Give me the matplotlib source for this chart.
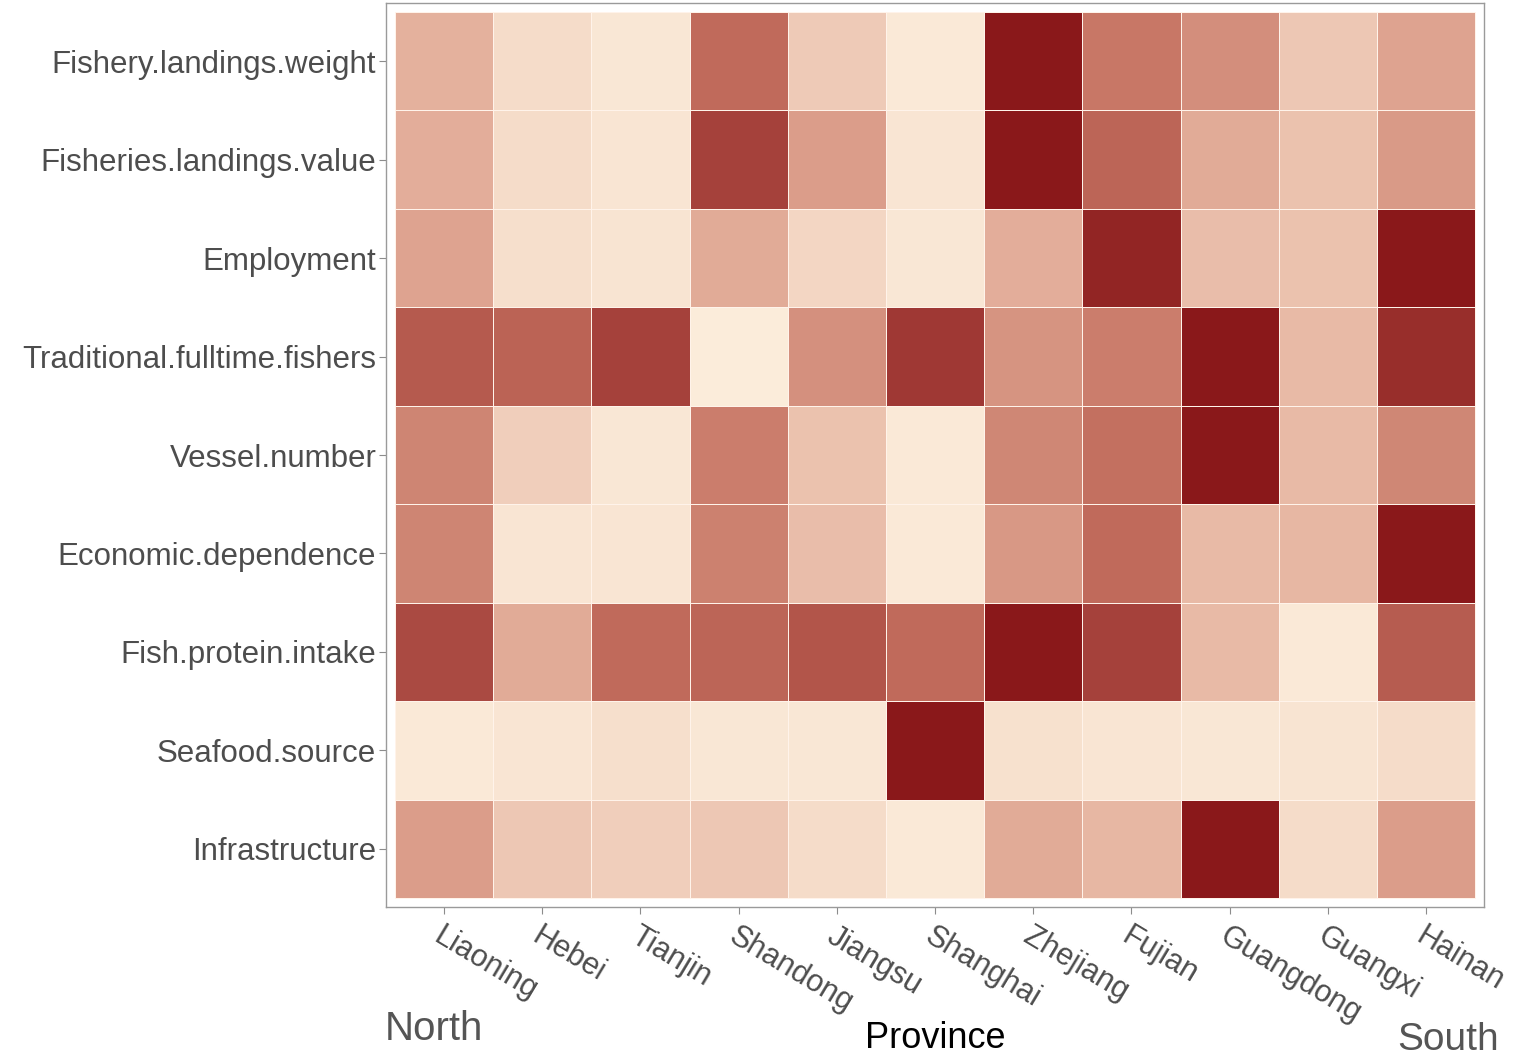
import numpy as np
import matplotlib
matplotlib.use("Agg")
import matplotlib.pyplot as plt
from matplotlib.colors import LinearSegmentedColormap

plt.rcParams['font.family'] = ['Liberation Sans', 'DejaVu Sans']

provinces = ["Liaoning", "Hebei", "Tianjin", "Shandong", "Jiangsu", "Shanghai",
             "Zhejiang", "Fujian", "Guangdong", "Guangxi", "Hainan"]
indicators = ["Fishery.landings.weight", "Fisheries.landings.value", "Employment",
              "Traditional.fulltime.fishers", "Vessel.number", "Economic.dependence",
              "Fish.protein.intake", "Seafood.source", "Infrastructure"]

# scaled values (0 = light, 1 = dark), rows follow indicators top to bottom
landings_weight = [0.35, 0.10, 0.03, 0.70, 0.20, 0.02, 1.00, 0.65, 0.53, 0.22, 0.42]
landings_value = [0.37, 0.10, 0.04, 0.85, 0.45, 0.04, 1.00, 0.72, 0.38, 0.25, 0.47]
employment = [0.42, 0.08, 0.05, 0.38, 0.13, 0.03, 0.37, 0.95, 0.28, 0.25, 1.00]
fulltime_fishers = [0.76, 0.73, 0.85, 0.00, 0.52, 0.88, 0.50, 0.62, 1.00, 0.30, 0.92]
vessel_number = [0.58, 0.18, 0.03, 0.62, 0.25, 0.02, 0.57, 0.68, 1.00, 0.30, 0.57]
economic_dependence = [0.58, 0.04, 0.04, 0.60, 0.28, 0.02, 0.48, 0.70, 0.30, 0.32, 1.00]
protein_intake = [0.82, 0.38, 0.70, 0.72, 0.78, 0.70, 1.00, 0.85, 0.30, 0.02, 0.75]
seafood_source = [0.02, 0.04, 0.08, 0.03, 0.03, 1.00, 0.07, 0.04, 0.03, 0.05, 0.10]
infrastructure = [0.45, 0.22, 0.18, 0.22, 0.10, 0.02, 0.38, 0.32, 1.00, 0.10, 0.45]

values = np.array([landings_weight, landings_value, employment, fulltime_fishers,
                   vessel_number, economic_dependence, protein_intake,
                   seafood_source, infrastructure])

cmap = LinearSegmentedColormap.from_list(
    "fish", ["#FBECDA", "#E6B4A0", "#C67463", "#8A181A"])

fig = plt.figure(figsize=(15.24, 10.6), dpi=100)
ax = fig.add_axes([0.2533, 0.1443, 0.7205, 0.8529])

nr, nc = values.shape
ax.pcolormesh(np.arange(nc + 1) - 0.5, np.arange(nr + 1) - 0.5, values,
              cmap=cmap, vmin=0, vmax=1, edgecolor="#FFF3EA", linewidth=0.6)

ax.set_xlim(-0.59, nc - 0.41)
ax.set_ylim(nr - 0.41, -0.59)

ax.set_xticks(range(nc))
ax.set_xticklabels(provinces, rotation=-31, ha="left", va="top",
                   rotation_mode="anchor", fontsize=22, color="#4D4D4D")
ax.set_yticks(range(nr))
ax.set_yticklabels(indicators, fontsize=22.5, color="#4D4D4D")
ax.tick_params(length=5, width=0.8, color="#8C8C8C", pad=2)
ax.tick_params(axis="x", pad=5)

for s in ax.spines.values():
    s.set_color("#9A9A9A")
    s.set_linewidth(1.0)

fig.text(385 / 1524, 1 - 1040 / 1060, "North", fontsize=29, color="#555555",
         ha="left", va="baseline")
fig.text(935 / 1524, 1 - 1048 / 1060, "Province", fontsize=26, color="black",
         ha="center", va="baseline")
fig.text(1397 / 1524, 1 - 1050 / 1060, "South", fontsize=28, color="#555555",
         ha="left", va="baseline")

fig.savefig("out.png", dpi=100)
